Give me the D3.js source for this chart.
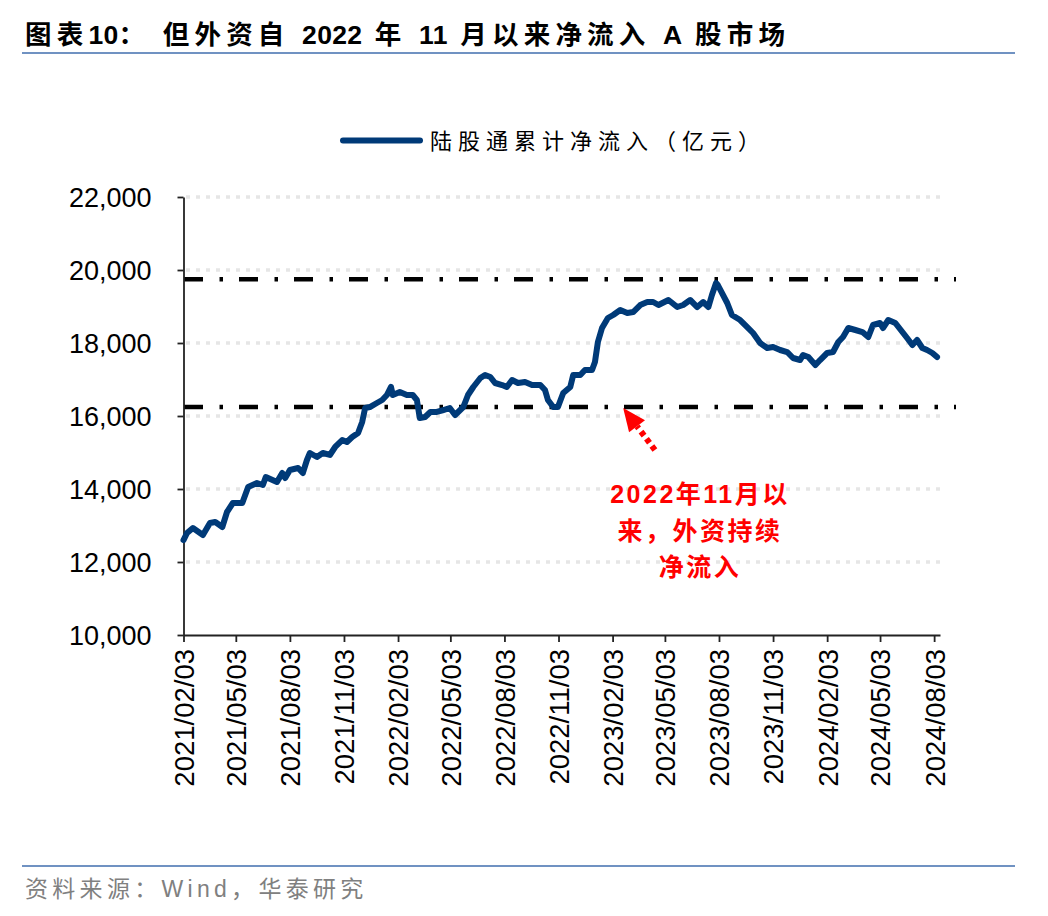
<!DOCTYPE html>
<html><head><meta charset="utf-8">
<script src="https://cdn.jsdelivr.net/npm/d3@7/dist/d3.min.js"></script>
<style>
html,body{margin:0;padding:0;background:#fff;}
svg{display:block;}
</style></head>
<body>
<svg id="chart" width="1048" height="916"></svg>
<script>
// ---- data ----
const dates = ["2021-02-03","2021-02-09","2021-02-19","2021-03-08","2021-03-20","2021-03-29","2021-04-10","2021-04-18","2021-04-28","2021-05-14","2021-05-24","2021-06-08","2021-06-18","2021-06-23","2021-07-12","2021-07-21","2021-07-26","2021-08-03","2021-08-17","2021-08-25","2021-09-01","2021-09-06","2021-09-18","2021-09-28","2021-10-10","2021-10-19","2021-10-31","2021-11-08","2021-11-17","2021-11-27","2021-12-04","2021-12-09","2021-12-17","2021-12-29","2022-01-07","2022-01-15","2022-01-22","2022-01-25","2022-02-06","2022-02-18","2022-02-28","2022-03-07","2022-03-12","2022-03-21","2022-03-30","2022-04-10","2022-04-21","2022-05-02","2022-05-11","2022-05-25","2022-06-02","2022-06-11","2022-06-23","2022-07-01","2022-07-10","2022-07-18","2022-07-30","2022-08-07","2022-08-16","2022-08-26","2022-09-07","2022-09-19","2022-10-03","2022-10-11","2022-10-16","2022-10-25","2022-11-02","2022-11-11","2022-11-23","2022-11-28","2022-12-10","2022-12-18","2022-12-30","2023-01-04","2023-01-09","2023-01-16","2023-01-26","2023-02-04","2023-02-16","2023-02-28","2023-03-10","2023-03-22","2023-04-03","2023-04-13","2023-04-22","2023-05-09","2023-05-24","2023-06-03","2023-06-15","2023-06-27","2023-07-07","2023-07-16","2023-07-22","2023-07-29","2023-08-01","2023-08-08","2023-08-17","2023-08-25","2023-09-08","2023-09-20","2023-09-30","2023-10-12","2023-10-24","2023-11-03","2023-11-15","2023-11-27","2023-12-07","2023-12-19","2023-12-24","2024-01-02","2024-01-14","2024-01-22","2024-02-03","2024-02-13","2024-02-22","2024-03-01","2024-03-10","2024-03-22","2024-04-03","2024-04-13","2024-04-21","2024-05-03","2024-05-08","2024-05-17","2024-05-29","2024-06-10","2024-06-18","2024-06-27","2024-07-05","2024-07-14","2024-07-22","2024-07-31","2024-08-08"];
const netInflow = [12600,12795,12932,12740,13068,13096,12959,13370,13616,13616,14055,14164,14110,14329,14192,14438,14301,14521,14575,14438,14795,14986,14877,14986,14932,15151,15342,15288,15425,15534,15836,16219,16246,16356,16438,16575,16795,16575,16658,16575,16575,16438,15945,15973,16110,16110,16164,16219,16027,16246,16575,16795,17041,17123,17068,16904,16849,16795,16986,16904,16931,16849,16849,16712,16438,16246,16246,16630,16795,17123,17123,17260,17260,17479,18027,18411,18685,18767,18904,18822,18849,19041,19123,19123,19041,19178,18986,19041,19178,18986,19123,18986,19315,19644,19589,19370,19096,18767,18630,18438,18274,18000,17863,17890,17808,17753,17589,17534,17671,17616,17397,17534,17726,17753,18027,18164,18411,18356,18301,18164,18493,18548,18411,18630,18548,18301,18137,17945,18082,17863,17808,17726,17616];
const xTickLabels = ["2021/02/03","2021/05/03","2021/08/03","2021/11/03","2022/02/03","2022/05/03","2022/08/03","2022/11/03","2023/02/03","2023/05/03","2023/08/03","2023/11/03","2024/02/03","2024/05/03","2024/08/03"];
const yTicks = [10000,12000,14000,16000,18000,20000,22000];
const refLevels = [19750,16250];
const seriesName = "陆股通累计净流入（亿元）";
const titleParts = [["图表","c"],["10","l"],["：  但外资自 ","c"],["2022","l"],[" 年 ","c"],["11","l"],[" 月以来净流入 ","c"],["A","l"],[" 股市场","c"]];
const sourceText = "资料来源：Wind，华泰研究";
const noteLines = ["2022年11月以","来，外资持续","净流入"];
const arrowTail = {date:"2023-04-16", value:15070};
const arrowTip = {date:"2023-02-21", value:16220};

// ---- layout ----
const svg = d3.select("#chart");
const parse = d3.timeParse("%Y-%m-%d");
const parseTick = d3.timeParse("%Y/%m/%d");
const data = dates.map((d,i)=>({date:parse(d), value:netInflow[i]}));
const latin = "'Liberation Sans', Arial, 'Noto Sans CJK SC', sans-serif";
const cjk = "'Liberation Sans', 'Noto Sans CJK SC', sans-serif";

const x = d3.scaleTime().domain([parse("2021-02-03"), parse("2024-08-13")]).range([183.5, 940]);
const y = d3.scaleLinear().domain([10000,22000]).range([635,197]);

// title
const title = svg.append("text").attr("x",25).attr("y",44)
  .attr("font-family",cjk).attr("font-weight","bold").attr("font-size",26.5).attr("fill","#000");
title.selectAll("tspan").data(titleParts).join("tspan")
  .attr("letter-spacing",d=>d[1]==="c"?5.2:0.3).text(d=>d[0]);
svg.append("line").attr("x1",22).attr("x2",1015).attr("y1",53).attr("y2",53)
  .attr("stroke","#7092c2").attr("stroke-width",2);

// legend
svg.append("line").attr("x1",343).attr("x2",420).attr("y1",140.5).attr("y2",140.5)
  .attr("stroke","#003a78").attr("stroke-width",6).attr("stroke-linecap","round");
svg.append("text").attr("x",430).attr("y",149)
  .attr("font-family",cjk).attr("font-size",22).attr("letter-spacing",6)
  .attr("fill","#000").text(seriesName);

// gridlines
svg.append("g").selectAll("line").data(yTicks.filter(v=>v>10000)).join("line")
  .attr("x1",186).attr("x2",940).attr("y1",d=>y(d)).attr("y2",d=>y(d))
  .attr("stroke","#e6e6e6").attr("stroke-width",3.5).attr("stroke-dasharray","4,6");

// reference dash-dot lines
svg.append("g").selectAll("line").data(refLevels).join("line")
  .attr("x1",184).attr("x2",956).attr("y1",d=>y(d)).attr("y2",d=>y(d))
  .attr("stroke","#000").attr("stroke-width",4.5).attr("stroke-dasharray","19,16.5,3.5,16");

// axes
const yAxis = d3.axisLeft(y).tickValues(yTicks).tickSize(6).tickSizeOuter(0).tickFormat(d3.format(","));
const gy = svg.append("g").attr("transform","translate(183.5,0)").call(yAxis);
gy.select(".domain").attr("stroke","#222").attr("stroke-width",1.8);
gy.selectAll(".tick line").attr("stroke","#222").attr("stroke-width",1.8);
gy.selectAll(".tick text").attr("font-family",latin).attr("font-size",27).attr("fill","#000")
  .attr("x",-32).attr("dy","0.35em");

const tickDates = xTickLabels.map(parseTick);
const xAxis = d3.axisBottom(x).tickValues(tickDates).tickSize(7).tickSizeOuter(0)
  .tickFormat((d,i)=>xTickLabels[i]);
const gx = svg.append("g").attr("transform","translate(0,635)").call(xAxis);
gx.select(".domain").attr("stroke","#222").attr("stroke-width",1.8);
gx.selectAll(".tick line").attr("stroke","#222").attr("stroke-width",1.8);
gx.selectAll(".tick text").attr("font-family",latin).attr("font-size",27.5).attr("fill","#000")
  .attr("transform","rotate(-90)").attr("text-anchor","end")
  .attr("x",-14).attr("y",0).attr("dy","0.36em");

// series line
const line = d3.line().x(d=>x(d.date)).y(d=>y(d.value)).curve(d3.curveLinear);
svg.append("path").datum(data).attr("d",line)
  .attr("fill","none").attr("stroke","#003a78").attr("stroke-width",6)
  .attr("stroke-linejoin","round").attr("stroke-linecap","round");

// annotation arrow
const tx = x(parse(arrowTip.date)), ty = y(arrowTip.value);
const sx = x(parse(arrowTail.date)), sy = y(arrowTail.value);
const dx = tx - sx, dy = ty - sy, len = Math.hypot(dx,dy);
const ux = dx/len, uy = dy/len;
const headLen = 23, headHalf = 10;
const bx = tx - ux*headLen, by = ty - uy*headLen;
svg.append("line").attr("x1",sx).attr("y1",sy).attr("x2",bx).attr("y2",by)
  .attr("stroke","#ff0000").attr("stroke-width",6).attr("stroke-dasharray","5,4");
svg.append("polygon")
  .attr("points",[[tx,ty],[bx - uy*headHalf, by + ux*headHalf],[bx + uy*headHalf, by - ux*headHalf]].map(p=>p.join(",")).join(" "))
  .attr("fill","#ff0000");

// annotation text
svg.append("g").selectAll("text").data(noteLines).join("text")
  .attr("x",700).attr("y",(d,i)=>503 + i*36.5)
  .attr("text-anchor","middle").attr("font-family",cjk).attr("font-weight","bold")
  .attr("font-size",25).attr("letter-spacing",2.5).attr("fill","#ff0000").text(d=>d);

// footer
svg.append("line").attr("x1",22).attr("x2",1015).attr("y1",866).attr("y2",866)
  .attr("stroke","#7092c2").attr("stroke-width",2);
svg.append("text").attr("x",25).attr("y",897)
  .attr("font-family",cjk).attr("font-size",23).attr("letter-spacing",4.3)
  .attr("fill","#808080").text(sourceText);
</script>
</body></html>
